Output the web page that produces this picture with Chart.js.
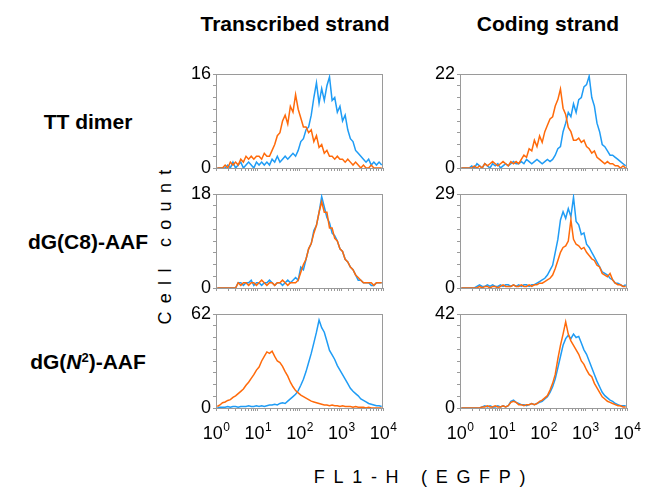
<!DOCTYPE html>
<html><head><meta charset="utf-8">
<script src="https://cdn.jsdelivr.net/npm/chart.js@4.4.1/dist/chart.umd.min.js"></script>
<style>
html,body{margin:0;padding:0;background:#fff;}
body{width:645px;height:488px;position:relative;overflow:hidden;font-family:"Liberation Sans",Arial,sans-serif;color:#000;}
.t{position:absolute;white-space:nowrap;line-height:1;}
.b{font-weight:bold;font-size:21px;}
.c{transform:translateX(-50%);}
canvas{position:absolute;}
sup{font-size:0.62em;vertical-align:0;position:relative;top:-0.55em;}
</style></head><body>
<div id="labels"></div>
<script>
// ---------- data ----------
const colLabels = ['Transcribed strand', 'Coding strand'];
const rowLabels = ['TT dimer', 'dG(C8)-AAF', 'dG(<i>N</i><sup>2</sup>)-AAF'];
const yAxisTitle = 'Cell count';
const xAxisTitle = 'FL1-H (EGFP)';
const xTickValues = [1, 10, 100, 1000, 10000];
const xTickExponents = ['0', '1', '2', '3', '4'];
const yTopTicks = [16, 22, 18, 29, 62, 42];
const seriesNames = ['orange', 'blue'];
const binCount = 64;

const ttTranscribedOrange = [0,0,0,0.5,0,1,0.5,1,0.5, 1.5,1,2,1.5,2,1.5,2, 2,1.5,2.5,2,2,3,
  4,5.5,6,8,9,7.5,10.5,9.5,12.5,10, 8.5,7,7,6,6.5,4.5,5.5,3.5,4,2.5,
  3,2,2,1.5,2,1.5,1.5,1,1.5,1, 0.5,1,0.5,0,0.5,0,0,0.5,0,0,0,0];
const ttTranscribedBlue = [0,0,0,0,0.5,0,1,0,0.5,1,0,0.5,1,0.5,0,1,
  0.5,1,0.5,1,0.5,1.5,1,2,1,1.5,2,1.5,2,2.5, 2,3,4.5,5,6.5,7,9,12,14.5,11,
  13.5,11.5,14,15.5,11.5,12,9.5,10.5,8,9, 6.5,5,4.5,3,2.5,2,1.5,1,1.5,0.5,1,0.5,1,0.5];
const ttCodingOrange = [0,0,0,0,0,0.5,0,0.5,0,1, 0.5,1,1.5,1,0.5,1,1.5,1,0.5,1.5,1,1.5,1,2,
  3,2.5,4.5,4,6.5,5,7.5,6,8.5,10, 11.5,12,14.5,16,18.5,14,12.5,9.5,8.5,6.5,
  6.5,7,6,6.5,5,4.5,3.5,4,2.5,2, 1.5,1,1.5,1,1,0.5,0.5,0,0.5,0];
const ttCodingBlue = [0,0,0,0,0.5,0,1,0.5,0,1,0.5,0,1,0.5,1,0,0.5,1,0.5,1,
  1.5,1,1,1.5,1,2,1.5,1,1.5,2,1.5,1,1.5,2,1.5,2, 3,4.5,5,8.5,10.5,13,12,15,13,16,
  16.5,19,19.5,21.5,16.5,14.5,10.5,8.5,5.5,5, 4,3,3,2.5,2,1.5,1,0.5];
const c8TranscribedOrange = [0,0,0,0,0,0,0,0,
  1,0.5,1,1,0.5,1,1,0.5,1,1.5,1,0.5,1,1,0.5,1,1,1.5,1,0.5,1,
  1,1,1.5,3,4.5,5.5,7.5,8.5,10.5,12, 14.5,16.5,14.5,14.5,11.5,11.5,9.5,9,7.5,7,
  5.5,5,4,3.5,2.5,2,1.5,1, 1,1,1,0.5,1,1,1];
const c8TranscribedBlue = [0,0,0,0,0,0,0,0,
  1,1,0.5,1,1,1.5,0.5,1,1,0.5,1,1,1.5,1,0.5,1,1,0.5,1,1.5,1,
  1.5,2,1.5,4,3.5,5.5,7.5,8.5,11,12, 14.5,17.5,15.5,13.5,12.5,10.5,10,9,7.5,7,
  5.5,5,4,3.5,2.5,1.5,1.5,1, 1,1,0.5,0.5,1,1,1];
const c8CodingOrange = [0,0,0,0,0,0,
  0,0.5,0,0.5,0.5,0,0.5,0.5,0,0.5,1,0.5,0.5,0.5,1,0.5,0.5,1,0.5,0.5,1,0.5,1,1,
  1.5,1.5,2,2.5,3,4,6,8.5,11,12.5, 13,14.5,21,15,13.5,13,12,12.5,11,10,
  9,8.5,7,6.5,4.5,4,3.5,4.5,2.5,1.5,1,1,0.5,0.5];
const c8CodingBlue = [0,0,0,0,0,0,
  0.5,1,0.5,0.5,1,0.5,1,0.5,0.5,1,0.5,1,1,0.5,1,0.5,1,0.5,1,1,0.5,1,1,1.5,
  2,2.5,3,4,5.5,7,11,15,21,23.5, 21.5,24.5,22,28,20.5,19.5,16.5,17,13.5,12.5,
  11,9.5,8,6.5,5,4.5,4,3,2.5,1.5,1.5,1,0.5,1];
const n2TranscribedOrange = [1,2,3.5,4,5,5.5,7,8,9.5,11, 12.5,15,17,19.5,22,25,27,31,34,37,
  36,37.5,34,31,30,27.5,24,21,17,14, 11.5,10,8.5,7.5,6.5,5.5,4.5,4,3.5,3,
  2.5,2,2,1.5,2,1.5,1.5,1,1.5,1,1, 1,0.5,1,0.5,0.5,0.5,0,0.5,0,0,0,0,0];
const n2TranscribedBlue = [0,0.5,0.5,0.5, 1,0.5,1,1,0.5,1,1,1,1.5,1,1,1.5,1,1.5,1,1.5,2,
  2,2.5,2,3,3.5,3,4.5,6,7.5,9, 11.5,15,19,24,30,36,43,50,58,53,
  50,44,38,35,32,28,25,22,19,16, 13,11,9.5,8,6,5,4,3,2.5,2,1.5,1.5,1];
const n2CodingOrange = [0,0,0,0,0,0,0,0, 0.5,0.5,1,0.5,0.5,1,0.5,0.5,1,0.5,1,
  2.5,3,2.5,1.5, 1.5,1,1.5,1.5,2,1.5,2, 3,3.5,4.5,5.5,8,11,15,22,28,33,
  38.5,33,30,28,26,24,21,19.5,17,15, 14,11,9,7,5,4,3,2.5,2,1.5, 1,1,0.5,0.5];
const n2CodingBlue = [0,0,0,0,0,0,0,0, 0.5,1,0.5,1,0.5,0.5,1,0.5,1,0.5,1,
  3,3.5,2.5,2, 1.5,1.5,1,1.5,2,1.5,2, 2.5,3,4,5,7,9.5,13,18,23,28,
  31,32.5,31,33,31.5,32,29,26,24,21, 18,15,12,9.5,7,5.5,4.5,3.5,3,2, 1.5,1,1,1];

// ---------- layout ----------
const colors = { orange: '#ff6a0a', blue: '#1f9cf5' };
const FONT = '"Liberation Sans", Arial, sans-serif';
const panelLefts = [216, 460];
const panelTops = [74, 194, 314];
const PW = 167, PH = 94;
const PADL = 60, PADT = 15, PADR = 25, PADB = 45;

const panels = [
  { r: 0, c: 0, top: yTopTicks[0], orange: ttTranscribedOrange, blue: ttTranscribedBlue },
  { r: 0, c: 1, top: yTopTicks[1], orange: ttCodingOrange, blue: ttCodingBlue },
  { r: 1, c: 0, top: yTopTicks[2], orange: c8TranscribedOrange, blue: c8TranscribedBlue },
  { r: 1, c: 1, top: yTopTicks[3], orange: c8CodingOrange, blue: c8CodingBlue },
  { r: 2, c: 0, top: yTopTicks[4], orange: n2TranscribedOrange, blue: n2TranscribedBlue },
  { r: 2, c: 1, top: yTopTicks[5], orange: n2CodingOrange, blue: n2CodingBlue }
];

// bin centres of a 4-decade log histogram
const binCenters = Array.from({ length: binCount }, (_, i) => Math.pow(10, 4 * (i + 0.5) / binCount));

Chart.defaults.font.family = FONT;
Chart.defaults.color = '#000';

// text labels
const L = document.getElementById('labels');
function addText(html, cls, x, baseline, size, extra) {
  const d = document.createElement('div');
  d.className = 't ' + cls;
  d.innerHTML = html;
  d.style.fontSize = size + 'px';
  d.style.left = x + 'px';
  d.style.top = (baseline - size * 0.8465) + 'px';
  if (extra) Object.assign(d.style, extra);
  L.appendChild(d);
  return d;
}
addText(colLabels[0], 'b c', 295, 31, 21);
addText(colLabels[1], 'b c', 548, 31, 21);
const rowMid = [121, 241, 361];
rowLabels.forEach((t, i) => addText(t, 'b c', 88, rowMid[i] + 7.5, 21));
addText(xAxisTitle, 'c', 424, 483, 18, { letterSpacing: '8.7px' });
const yt = document.createElement('div');
yt.className = 't';
yt.textContent = yAxisTitle;
Object.assign(yt.style, { fontSize: '18px', letterSpacing: '8.3px', left: '165px', top: '243px',
  transform: 'translate(-50%,-50%) rotate(-90deg)' });
L.appendChild(yt);

const framePlugin = {
  id: 'frame',
  beforeDatasetsDraw(chart) {
    const { ctx, chartArea: a } = chart;
    ctx.save();
    ctx.strokeStyle = '#9a9a9a';
    ctx.lineWidth = 1;
    ctx.strokeRect(Math.round(a.left) + 0.5, Math.round(a.top) + 0.5,
      Math.round(a.right - a.left) - 1, Math.round(a.bottom - a.top));
    ctx.restore();
  },
  afterDraw(chart, args, opts) {
    if (!opts.showXLabels) return;
    const { ctx, chartArea: a } = chart;
    const xs = chart.scales.x;
    ctx.save();
    ctx.fillStyle = '#000';
    ctx.textBaseline = 'alphabetic';
    xTickValues.forEach((v, i) => {
      const px = xs.getPixelForValue(v);
      ctx.font = '18px ' + FONT;
      const w1 = ctx.measureText('10').width;
      ctx.font = '12px ' + FONT;
      const w2 = ctx.measureText(xTickExponents[i]).width;
      const x0 = px - (w1 + w2) / 2;
      ctx.font = '18px ' + FONT;
      ctx.fillText('10', x0, a.bottom + 31);
      ctx.font = '12px ' + FONT;
      ctx.fillText(xTickExponents[i], x0 + w1 + 0.5, a.bottom + 23);
    });
    ctx.restore();
  }
};

panels.forEach(p => {
  const cv = document.createElement('canvas');
  const w = PW + PADL + PADR, h = PH + PADT + PADB;
  cv.width = w; cv.height = h;
  cv.style.left = (panelLefts[p.c] - PADL) + 'px';
  cv.style.top = (panelTops[p.r] - PADT) + 'px';
  cv.style.width = w + 'px'; cv.style.height = h + 'px';
  document.body.appendChild(cv);
  const mk = (name, arr) => ({
    label: name,
    data: arr.map((y, i) => ({ x: binCenters[i], y })),
    borderColor: colors[name],
    borderWidth: 1.5,
    pointRadius: 0,
    tension: 0,
    fill: false
  });
  new Chart(cv, {
    type: 'line',
    data: { datasets: [mk('orange', p.orange), mk('blue', p.blue)] },
    plugins: [framePlugin],
    options: {
      responsive: false,
      animation: false,
      devicePixelRatio: 1,
      layout: { padding: { left: 0, top: PADT, right: PADR, bottom: 0 } },
      plugins: { legend: { display: false }, tooltip: { enabled: false }, frame: { showXLabels: p.r === 2 } },
      scales: {
        x: {
          type: 'logarithmic', min: 1, max: 10000,
          grid: { display: true, drawOnChartArea: false, drawTicks: true, tickLength: 3, color: '#9a9a9a' },
          border: { display: false },
          ticks: { autoSkip: false, maxRotation: 0, callback: () => '' },
          afterFit: s => { s.height = PADB; }
        },
        y: {
          min: 0, max: p.top,
          afterBuildTicks: s => { s.ticks = Array.from({ length: 9 }, (_, i) => ({ value: p.top * i / 8 })); },
          grid: { display: true, drawOnChartArea: false, drawTicks: true, tickLength: 3, color: '#9a9a9a' },
          border: { display: false },
          ticks: { autoSkip: false, padding: 2, font: { size: 18 }, color: '#000',
            callback: (v, i, t) => (i === 0 || i === t.length - 1) ? String(Math.round(v)) : '' },
          afterFit: s => { s.width = PADL; }
        }
      }
    }
  });
});
</script>
</body></html>
